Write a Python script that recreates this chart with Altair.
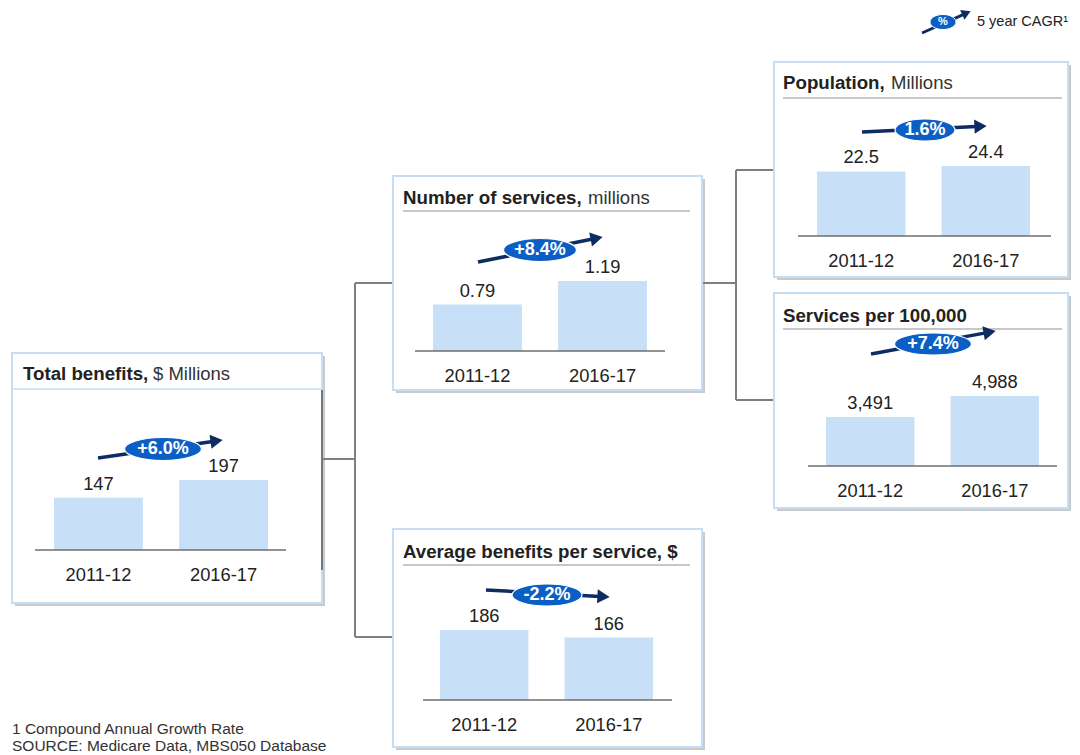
import math
import altair as alt
import pandas as pd

# ---------------- data ----------------
periods = ["2011-12", "2016-17"]
total_benefits = [147, 197]
number_of_services = [0.79, 1.19]
population = [22.5, 24.4]
services_per_100k = [3491, 4988]
avg_benefit_per_service = [186, 166]

series = [total_benefits, number_of_services, population, services_per_100k, avg_benefit_per_service]
cagr = ["+6.0%", "+8.4%", "1.6%", "+7.4%", "-2.2%"]
title_bold = ["Total benefits,", "Number of services,", "Population,",
              "Services per 100,000", "Average benefits per service, $"]
title_rest = ["$ Millions", "millions", "Millions", "", ""]
value_fmt = ["d", ".2f", ".1f", ",", "d"]

legend_text = "5 year CAGR¹"
legend_icon = "%"
footnotes = ["1 Compound Annual Growth Rate", "SOURCE: Medicare Data, MBS050 Database"]

# ---------------- layout (page pixels) ----------------
panels = [
    dict(box=(12, 353, 322, 603), title=(23, 374), rest_x=153, sep=(12, 322, 389, "#c8def5"),
         bars=(54, 268), base=550, axis=(35, 286), arrow=(98, 458, 223, 440), ell=(163, 449, 77, 23)),
    dict(box=(393, 176, 702, 390), title=(403, 198), rest_x=588, sep=(403, 690, 211, "#b4b4b4"),
         bars=(433, 647), base=351, axis=(415, 665), arrow=(478, 262, 603, 237), ell=(540, 250, 73, 23)),
    dict(box=(774, 62, 1068, 277), title=(783, 83), rest_x=891, sep=(783, 1062, 98, "#b4b4b4"),
         bars=(817, 1030), base=236, axis=(798, 1051), arrow=(862, 132, 987, 126), ell=(925, 130, 60, 22)),
    dict(box=(774, 293, 1068, 508), title=(783, 316), rest_x=0, sep=(783, 1062, 329, "#b4b4b4"),
         bars=(826, 1039), base=466, axis=(808, 1057), arrow=(871, 354, 996, 331), ell=(933, 344, 77, 22)),
    dict(box=(393, 529, 702, 747), title=(403, 552), rest_x=0, sep=(403, 690, 565, "#b4b4b4"),
         bars=(440, 653), base=700, axis=(423, 672), arrow=(486, 590, 610, 597), ell=(547, 595, 70, 22)),
]
connectors = [
    (322, 459, 355, 459), (355, 283, 355, 637), (355, 283, 393, 283), (355, 637, 393, 637),
    (702, 283, 736, 283), (736, 170, 736, 400), (736, 170, 774, 170), (736, 400, 774, 400),
]
BAR_H = 70
FONT = "Liberation Sans"
BAR_COLOR = "#c7dff7"
BOX_STROKE = "#c6ddf6"
ELL_COLOR = "#0b5fc4"
ARROW_COLOR = "#0d2d62"
TEXT = "#222222"

W, H = 1064, 747
XS = alt.Scale(domain=[8, 8 + W], range=[0, W], nice=False, zero=False)
YS = alt.Scale(domain=[8, 8 + H], range=[0, H], nice=False, zero=False)


def cx(f):
    return alt.X(f, type="quantitative", scale=XS, axis=None)


def cy(f):
    return alt.Y(f, type="quantitative", scale=YS, axis=None)


def cx2(f):
    return alt.X2(f)


def cy2(f):
    return alt.Y2(f)


def ellipse_path(w, h):
    r = h / w
    k = 0.5523
    return (f"M -1 0 C -1 {-r*k:.4f} {-k} {-r:.4f} 0 {-r:.4f} "
            f"C {k} {-r:.4f} 1 {-r*k:.4f} 1 0 "
            f"C 1 {r*k:.4f} {k} {r:.4f} 0 {r:.4f} "
            f"C {-k} {r:.4f} -1 {r*k:.4f} -1 0 Z")


layers = []

# shadows and boxes
boxes = pd.DataFrame([dict(x0=p["box"][0], y0=p["box"][1], x1=p["box"][2], y1=p["box"][3]) for p in panels])
shadow = boxes.assign(x0=boxes.x0 + 3, y0=boxes.y0 + 3, x1=boxes.x1 + 3, y1=boxes.y1 + 3)
layers.append(alt.Chart(shadow).mark_rect(fill="#9e9e9e", opacity=0.55).encode(
    x=cx("x0"), x2=cx2("x1"), y=cy("y0"), y2=cy2("y1")))

# connectors
con = pd.DataFrame(connectors, columns=["x0", "y0", "x1", "y1"])
layers.append(alt.Chart(con).mark_rule(color="#7f7f7f", strokeWidth=2).encode(
    x=cx("x0"), x2=cx2("x1"), y=cy("y0"), y2=cy2("y1")))

layers.append(alt.Chart(boxes).mark_rect(fill="white", stroke=BOX_STROKE, strokeWidth=2).encode(
    x=cx("x0"), x2=cx2("x1"), y=cy("y0"), y2=cy2("y1")))

# odd dark edge line inside panel 1
edge = pd.DataFrame([dict(x0=322, y0=390, x1=322, y1=570)])
layers.append(alt.Chart(edge).mark_rule(color="#555555", strokeWidth=2, opacity=0.75).encode(
    x=cx("x0"), x2=cx2("x1"), y=cy("y0"), y2=cy2("y1")))

# title separators
seps = pd.DataFrame([dict(x0=p["sep"][0], x1=p["sep"][1], y=p["sep"][2], c=p["sep"][3]) for p in panels])
layers.append(alt.Chart(seps).mark_rule(strokeWidth=1.5).encode(
    x=cx("x0"), x2=cx2("x1"), y=cy("y"), color=alt.Color("c:N", scale=None)))

# titles
tb = pd.DataFrame([dict(x=p["title"][0], y=p["title"][1], t=title_bold[i]) for i, p in enumerate(panels)])
layers.append(alt.Chart(tb).mark_text(font=FONT, fontSize=18.7, fontWeight="bold", align="left",
                                      baseline="middle", color=TEXT).encode(
    x=cx("x"), y=cy("y"), text="t:N"))
tr = pd.DataFrame([dict(x=p["rest_x"], y=p["title"][1], t=title_rest[i])
                   for i, p in enumerate(panels) if title_rest[i]])
layers.append(alt.Chart(tr).mark_text(font=FONT, fontSize=18.5, align="left",
                                      baseline="middle", color="#333333").encode(
    x=cx("x"), y=cy("y"), text="t:N"))

# panel bar charts
for i, p in enumerate(panels):
    df = pd.DataFrame({"period": periods, "value": series[i]})
    b0, b1 = p["bars"]
    xs = alt.Scale(type="band", domain=periods, range=[b0 - 8, b1 - 8], paddingInner=0.29, paddingOuter=0)
    ys = alt.Scale(domain=[0, max(series[i])], range=[p["base"] - 8, p["base"] - 8 - BAR_H],
                   nice=False, zero=True)
    X = alt.X("period:N", scale=xs, axis=None, sort=periods)
    XT = alt.X("period:N", scale=xs, axis=None, sort=periods, bandPosition=0.5)
    Y = alt.Y("value:Q", scale=ys, axis=None)
    bars = alt.Chart(df).mark_bar(color=BAR_COLOR).encode(x=X, y=Y)
    vals = alt.Chart(df).mark_text(font=FONT, fontSize=18.3, baseline="middle", dy=-13,
                                   color=TEXT).encode(
        x=XT, y=Y, text=alt.Text("value:Q", format=value_fmt[i]))
    cats = alt.Chart(df).mark_text(font=FONT, fontSize=18.3, baseline="middle",
                                   color=TEXT).encode(
        x=XT, y=alt.value(p["base"] + 26 - 8), text="period:N")
    layers.append(alt.layer(bars, vals, cats))

# baselines
axl = pd.DataFrame([dict(x0=p["axis"][0], x1=p["axis"][1], y=p["base"]) for p in panels])
layers.append(alt.Chart(axl).mark_rule(color="#6e6e6e", strokeWidth=1.5).encode(
    x=cx("x0"), x2=cx2("x1"), y=cy("y")))


# CAGR arrows
def arrow_rows(arrs, head):
    shafts, heads = [], []
    for (x0, y0, x1, y1) in arrs:
        L = math.hypot(x1 - x0, y1 - y0)
        ux, uy = (x1 - x0) / L, (y1 - y0) / L
        shafts.append(dict(x0=x0, y0=y0, x1=x1 - ux * head * 0.8, y1=y1 - uy * head * 0.8))
        ang = math.degrees(math.atan2(uy, ux)) % 360
        heads.append(dict(x=x1 - ux * head / 2, y=y1 - uy * head / 2, a=ang))
    return pd.DataFrame(shafts), pd.DataFrame(heads)


sh, hd = arrow_rows([p["arrow"] for p in panels], 13)
layers.append(alt.Chart(sh).mark_rule(color=ARROW_COLOR, strokeWidth=3.5).encode(
    x=cx("x0"), x2=cx2("x1"), y=cy("y0"), y2=cy2("y1")))
layers.append(alt.Chart(hd).mark_point(shape="triangle-right", filled=True, color=ARROW_COLOR,
                                       opacity=1, size=200).encode(
    x=cx("x"), y=cy("y"), angle=alt.Angle("a:Q", scale=None)))

for i, p in enumerate(panels):
    ex, ey, ew, eh = p["ell"]
    d = pd.DataFrame([dict(x=ex, y=ey, t=cagr[i])])
    layers.append(alt.Chart(d).mark_point(shape=ellipse_path(ew, eh), filled=True, fill=ELL_COLOR,
                                          stroke="white", strokeWidth=1.2, opacity=1,
                                          size=ew * ew).encode(x=cx("x"), y=cy("y")))
    layers.append(alt.Chart(d).mark_text(font=FONT, fontSize=18, fontWeight="bold", color="white",
                                         baseline="middle").encode(
        x=cx("x"), y=cy("y"), text="t:N"))

# legend
lsh, lhd = arrow_rows([(922, 33, 971, 11)], 10)
layers.append(alt.Chart(lsh).mark_rule(color=ARROW_COLOR, strokeWidth=3).encode(
    x=cx("x0"), x2=cx2("x1"), y=cy("y0"), y2=cy2("y1")))
layers.append(alt.Chart(lhd).mark_point(shape="triangle-right", filled=True, color=ARROW_COLOR,
                                        opacity=1, size=110).encode(
    x=cx("x"), y=cy("y"), angle=alt.Angle("a:Q", scale=None)))
ld = pd.DataFrame([dict(x=943, y=22, t=legend_icon)])
layers.append(alt.Chart(ld).mark_point(shape=ellipse_path(26, 15), filled=True, fill=ELL_COLOR,
                                       stroke="white", strokeWidth=1, opacity=1, size=26 * 26).encode(
    x=cx("x"), y=cy("y")))
layers.append(alt.Chart(ld).mark_text(font=FONT, fontSize=11, fontWeight="bold", color="white",
                                      baseline="middle").encode(x=cx("x"), y=cy("y"), text="t:N"))
lt = pd.DataFrame([dict(x=977, y=22, t=legend_text)])
layers.append(alt.Chart(lt).mark_text(font=FONT, fontSize=14.5, align="left", baseline="middle",
                                      color=TEXT).encode(x=cx("x"), y=cy("y"), text="t:N"))

# footnotes
fn = pd.DataFrame([dict(x=12, y=729, t=footnotes[0]), dict(x=12, y=746, t=footnotes[1])])
layers.append(alt.Chart(fn).mark_text(font=FONT, fontSize=15.5, align="left", baseline="middle",
                                      color="#333333").encode(x=cx("x"), y=cy("y"), text="t:N"))

chart = alt.layer(*layers).resolve_scale(x="independent", y="independent").properties(
    width=W, height=H, autosize=alt.AutoSizeParams(type="none"), padding=0, background="white"
).configure_view(stroke=None)

chart.save("out.html", embed_options={"renderer": "svg", "actions": False})
